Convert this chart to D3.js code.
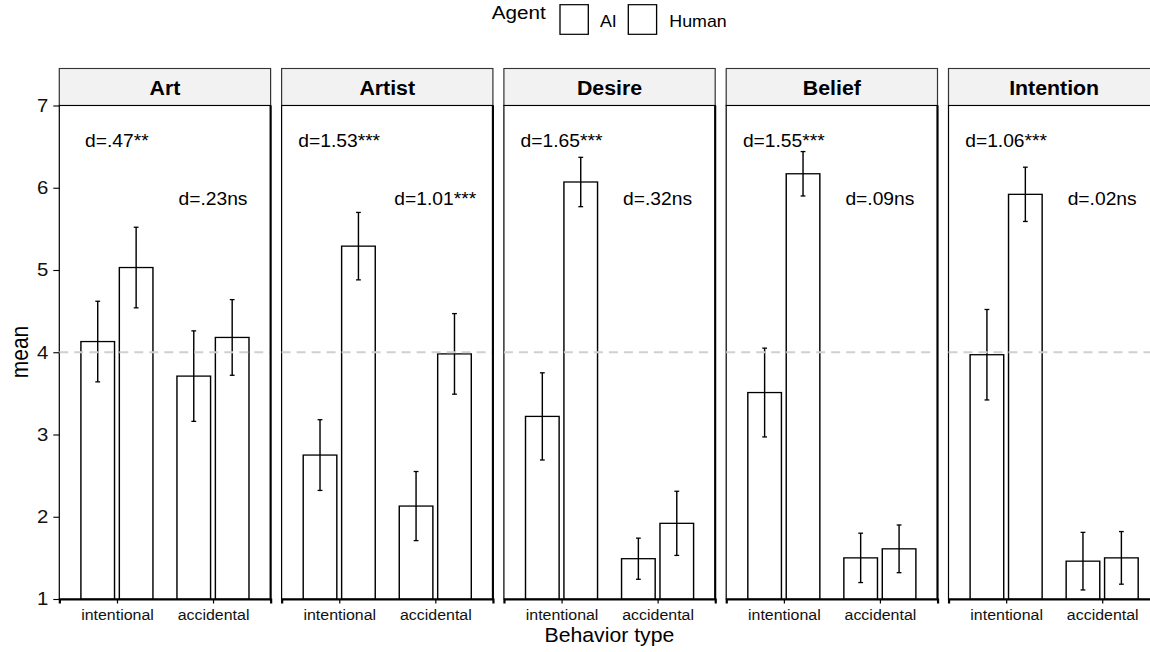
<!DOCTYPE html>
<html>
<head>
<meta charset="utf-8">
<script src="https://cdn.jsdelivr.net/npm/d3@7"></script>
<style>
  body { margin: 0; background: #fff; }
  svg { display: block; font-family: "Liberation Sans", Arial, Helvetica, sans-serif; }
</style>
</head>
<body>
<div id="chart"></div>
<script>
// ---- data ----
const panelNames = ['Art', 'Artist', 'Desire', 'Belief', 'Intention'];
const behaviorTypes = ['intentional', 'accidental'];
const agents = ['AI', 'Human'];

const meanIntentionalAI    = [4.13, 2.75, 3.22, 3.51, 3.97];
const meanIntentionalHuman = [5.03, 5.29, 6.07, 6.17, 5.92];
const meanAccidentalAI     = [3.71, 2.13, 1.49, 1.50, 1.46];
const meanAccidentalHuman  = [4.18, 3.98, 1.92, 1.61, 1.50];

const errIntentionalAI     = [0.49, 0.43, 0.53, 0.54, 0.55];
const errIntentionalHuman  = [0.49, 0.41, 0.30, 0.27, 0.33];
const errAccidentalAI      = [0.55, 0.42, 0.25, 0.30, 0.35];
const errAccidentalHuman   = [0.46, 0.49, 0.39, 0.29, 0.32];

const effectIntentional = ['d=.47**', 'd=1.53***', 'd=1.65***', 'd=1.55***', 'd=1.06***'];
const effectAccidental  = ['d=.23ns', 'd=1.01***', 'd=.32ns', 'd=.09ns', 'd=.02ns'];
const effectLabelY = [6.6, 5.9];   // y of the two label rows, in data units

const yTicks = [1, 2, 3, 4, 5, 6, 7];
const refLine = 4;

// ---- layout ----
// the reference is drawn slightly wider than tall, so the svg is stretched by XS
const W = 1150, H = 652, XS = 1.1;
const px = v => v / XS;

const panelLeft = px(59.3), panelStep = px(222.3), panelW = px(211.3);
const stripTop = 68.5, panelTop = 105.5, panelBottom = 599;

const svg = d3.select('#chart').append('svg')
    .attr('width', W)
    .attr('height', H)
    .attr('viewBox', `0 0 ${W / XS} ${H}`)
    .attr('preserveAspectRatio', 'none');

const y = d3.scaleLinear().domain([1, 7]).range([panelBottom, panelTop]);

const x = d3.scalePoint().domain(behaviorTypes).range([0, panelW]).padding(0.6);
const step = x.step();
const xAgent = d3.scaleBand().domain(agents)
    .range([-0.4 * step, 0.4 * step])
    .paddingInner(0.125).paddingOuter(0.0625);

const capW = 0.05 * step;

panelNames.forEach((name, i) => {
    const rows = [
        { behavior: 'intentional', agent: 'AI',    mean: meanIntentionalAI[i],    err: errIntentionalAI[i] },
        { behavior: 'intentional', agent: 'Human', mean: meanIntentionalHuman[i], err: errIntentionalHuman[i] },
        { behavior: 'accidental',  agent: 'AI',    mean: meanAccidentalAI[i],     err: errAccidentalAI[i] },
        { behavior: 'accidental',  agent: 'Human', mean: meanAccidentalHuman[i],  err: errAccidentalHuman[i] }
    ];

    const g = svg.append('g')
        .attr('transform', `translate(${panelLeft + i * panelStep},0)`);

    // strip
    g.append('rect')
        .attr('x', 0).attr('y', stripTop)
        .attr('width', panelW).attr('height', panelTop - stripTop)
        .attr('fill', '#f2f2f2')
        .attr('stroke', '#333').attr('stroke-width', 1.1);
    g.append('text')
        .attr('x', panelW / 2).attr('y', 95)
        .attr('text-anchor', 'middle')
        .attr('font-size', 19.4).attr('font-weight', 'bold')
        .attr('fill', '#000')
        .text(name);

    // panel
    g.append('rect')
        .attr('x', 0).attr('y', panelTop)
        .attr('width', panelW).attr('height', panelBottom - panelTop)
        .attr('fill', '#fff')
        .attr('stroke', '#000').attr('stroke-width', 1.1);

    // bars
    const cx = d => x(d.behavior) + xAgent(d.agent) + xAgent.bandwidth() / 2;
    g.selectAll('rect.bar')
        .data(rows)
        .join('rect')
        .classed('bar', true)
        .attr('x', d => x(d.behavior) + xAgent(d.agent))
        .attr('y', d => y(d.mean))
        .attr('width', xAgent.bandwidth())
        .attr('height', d => y(1) - y(d.mean))
        .attr('fill', '#fff')
        .attr('stroke', '#000').attr('stroke-width', 1.3);

    // error bars
    const eb = g.selectAll('g.err')
        .data(rows)
        .join('g')
        .classed('err', true)
        .attr('stroke', '#000').attr('stroke-width', 1.3);
    eb.append('line')
        .attr('x1', cx).attr('x2', cx)
        .attr('y1', d => y(d.mean + d.err)).attr('y2', d => y(d.mean - d.err));
    eb.append('line')
        .attr('x1', d => cx(d) - capW / 2).attr('x2', d => cx(d) + capW / 2)
        .attr('y1', d => y(d.mean + d.err)).attr('y2', d => y(d.mean + d.err));
    eb.append('line')
        .attr('x1', d => cx(d) - capW / 2).attr('x2', d => cx(d) + capW / 2)
        .attr('y1', d => y(d.mean - d.err)).attr('y2', d => y(d.mean - d.err));

    // reference line
    g.append('line')
        .attr('x1', 0).attr('x2', panelW)
        .attr('y1', y(refLine)).attr('y2', y(refLine))
        .attr('stroke', '#d0d0d0').attr('stroke-width', 1.8)
        .attr('stroke-dasharray', `${px(9)},${px(6)}`);

    // effect size labels
    g.append('text')
        .attr('x', x('intentional')).attr('y', y(effectLabelY[0]))
        .attr('dy', '0.5em')
        .attr('text-anchor', 'middle').attr('font-size', 17.5)
        .text(effectIntentional[i]);
    g.append('text')
        .attr('x', x('accidental')).attr('y', y(effectLabelY[1]))
        .attr('dy', '0.5em')
        .attr('text-anchor', 'middle').attr('font-size', 17.5)
        .text(effectAccidental[i]);

    // heavier right and bottom edges
    g.append('line')
        .attr('x1', panelW).attr('x2', panelW)
        .attr('y1', panelTop).attr('y2', panelBottom)
        .attr('stroke', '#000').attr('stroke-width', 1.9);

    // x axis
    const xa = g.append('g')
        .attr('transform', `translate(0,${panelBottom})`)
        .call(d3.axisBottom(x).tickSize(4.5).tickPadding(6));
    xa.select('.domain').attr('stroke', '#000').attr('stroke-width', 2);
    xa.selectAll('.tick line').attr('stroke', '#000').attr('stroke-width', 1.1);
    xa.selectAll('.tick text')
        .attr('font-size', 14.5)
        .attr('font-family', '"Liberation Sans", Arial, sans-serif')
        .attr('fill', '#111');

    // y axis on the first panel only
    if (i === 0) {
        const ya = g.append('g')
            .call(d3.axisLeft(y).tickValues(yTicks).tickFormat(d3.format('d'))
                .tickSize(px(6)).tickPadding(px(5)));
        ya.select('.domain').remove();
        ya.selectAll('.tick line').attr('stroke', '#000').attr('stroke-width', 1.1);
        ya.selectAll('.tick text')
            .attr('font-size', 18.5)
            .attr('font-family', '"Liberation Sans", Arial, sans-serif')
            .attr('fill', '#111');
    }
});

// axis titles
svg.append('text')
    .attr('transform', `translate(${px(28)},352) rotate(-90)`)
    .attr('text-anchor', 'middle')
    .attr('font-size', 21)
    .text('mean');
svg.append('text')
    .attr('x', px(609.4)).attr('y', 642.5)
    .attr('text-anchor', 'middle')
    .attr('font-size', 19.3)
    .text('Behavior type');

// legend
const legend = svg.append('g');
legend.append('text')
    .attr('x', px(491.7)).attr('y', 19)
    .attr('font-size', 18.8)
    .text('Agent');
const keyX = [560, 628.3];
const labelX = [600, 669.3];
agents.forEach((a, k) => {
    legend.append('rect')
        .attr('x', px(keyX[k])).attr('y', 4.7)
        .attr('width', px(28.3)).attr('height', 29.6)
        .attr('fill', '#fff')
        .attr('stroke', '#000').attr('stroke-width', 1.2);
    legend.append('text')
        .attr('x', px(labelX[k])).attr('y', 26.7)
        .attr('font-size', 16.2)
        .text(a);
});
</script>
</body>
</html>
